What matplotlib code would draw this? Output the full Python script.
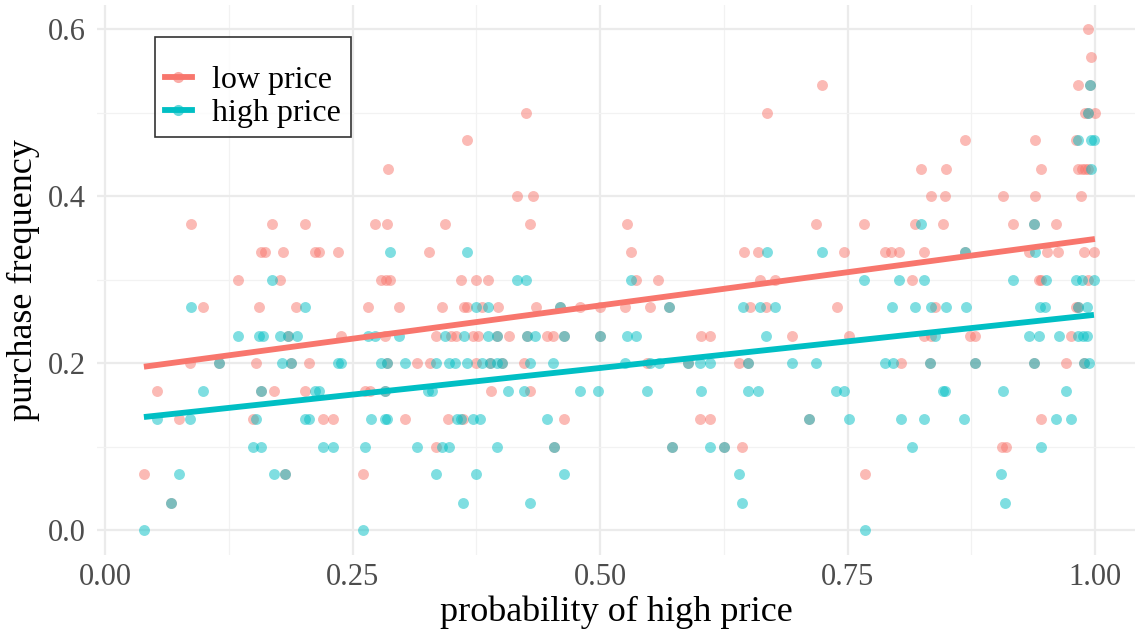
import numpy as np
import matplotlib
matplotlib.use("Agg")
import matplotlib.pyplot as plt
from matplotlib.lines import Line2D

# purchase frequency level -> x positions (probability of high price)
low_rows = [
    (0.600, [0.993]),
    (0.567, [0.996]),
    (0.533, [0.724, 0.983, 0.995]),
    (0.500, [0.425, 0.669, 0.990, 0.993, 1.000]),
    (0.467, [0.365, 0.869, 0.939, 0.981]),
    (0.433, [0.286, 0.824, 0.850, 0.946, 0.983, 0.987, 0.990, 0.993]),
    (0.400, [0.416, 0.432, 0.834, 0.849, 0.907, 0.939, 0.986]),
    (0.367, [0.087, 0.168, 0.202, 0.273, 0.285, 0.343, 0.429, 0.527, 0.718,
             0.767, 0.818, 0.846, 0.917, 0.938, 0.961]),
    (0.333, [0.157, 0.161, 0.180, 0.212, 0.216, 0.235, 0.327, 0.531, 0.645,
             0.660, 0.746, 0.788, 0.794, 0.802, 0.827, 0.869, 0.933, 0.952,
             0.963, 0.989, 0.999]),
    (0.300, [0.134, 0.177, 0.279, 0.284, 0.288, 0.359, 0.375, 0.387, 0.536,
             0.558, 0.662, 0.677, 0.815, 0.943, 0.946, 0.993]),
    (0.267, [0.099, 0.155, 0.193, 0.265, 0.297, 0.340, 0.362, 0.365, 0.381,
             0.397, 0.435, 0.459, 0.480, 0.500, 0.525, 0.550, 0.570, 0.651,
             0.668, 0.739, 0.838, 0.981, 0.983]),
    (0.233, [0.185, 0.238, 0.283, 0.334, 0.349, 0.354, 0.372, 0.377, 0.396,
             0.408, 0.426, 0.446, 0.452, 0.463, 0.500, 0.602, 0.611, 0.694,
             0.752, 0.827, 0.834, 0.874, 0.879, 0.976]),
    (0.200, [0.086, 0.115, 0.152, 0.188, 0.206, 0.285, 0.315, 0.328, 0.375,
             0.389, 0.401, 0.423, 0.547, 0.589, 0.640, 0.649, 0.804, 0.833,
             0.879, 0.938, 0.971, 0.989]),
    (0.167, [0.052, 0.157, 0.170, 0.202, 0.262, 0.267, 0.283, 0.390, 0.429]),
    (0.133, [0.074, 0.149, 0.220, 0.230, 0.303, 0.346, 0.361, 0.463, 0.601,
             0.611, 0.711, 0.946]),
    (0.100, [0.334, 0.453, 0.573, 0.625, 0.643, 0.906, 0.910]),
    (0.067, [0.039, 0.182, 0.260, 0.768]),
    (0.033, [0.066]),
]

high_rows = [
    (0.533, [0.995]),
    (0.500, [0.993]),
    (0.467, [0.983, 0.996, 0.999]),
    (0.433, [0.996]),
    (0.367, [0.824, 0.938]),
    (0.333, [0.288, 0.365, 0.669, 0.724, 0.869, 0.939]),
    (0.300, [0.168, 0.416, 0.425, 0.531, 0.767, 0.802, 0.827, 0.917, 0.951,
             0.981, 0.987, 0.999]),
    (0.267, [0.087, 0.202, 0.375, 0.387, 0.459, 0.570, 0.644, 0.662, 0.677,
             0.795, 0.818, 0.834, 0.850, 0.870, 0.945, 0.950, 0.983, 0.992]),
    (0.233, [0.134, 0.155, 0.159, 0.177, 0.185, 0.194, 0.265, 0.273, 0.297,
             0.343, 0.362, 0.387, 0.396, 0.426, 0.434, 0.463, 0.500, 0.527,
             0.536, 0.668, 0.838, 0.933, 0.943, 0.964, 0.983, 0.988, 0.992]),
    (0.200, [0.115, 0.179, 0.188, 0.235, 0.238, 0.279, 0.285, 0.303, 0.334,
             0.347, 0.353, 0.365, 0.381, 0.389, 0.396, 0.401, 0.429, 0.452,
             0.525, 0.550, 0.559, 0.589, 0.601, 0.611, 0.649, 0.694, 0.718,
             0.788, 0.796, 0.833, 0.879, 0.938, 0.989, 0.994]),
    (0.167, [0.099, 0.157, 0.212, 0.216, 0.283, 0.326, 0.330, 0.407, 0.423,
             0.480, 0.498, 0.547, 0.602, 0.649, 0.660, 0.738, 0.746, 0.846,
             0.849, 0.907, 0.971]),
    (0.133, [0.052, 0.086, 0.152, 0.202, 0.206, 0.268, 0.283, 0.285, 0.355,
             0.359, 0.372, 0.379, 0.446, 0.711, 0.752, 0.804, 0.827, 0.868,
             0.961, 0.976]),
    (0.100, [0.149, 0.157, 0.220, 0.230, 0.262, 0.315, 0.340, 0.347, 0.396,
             0.453, 0.573, 0.611, 0.625, 0.815, 0.946]),
    (0.067, [0.074, 0.170, 0.182, 0.334, 0.375, 0.463, 0.640, 0.905]),
    (0.033, [0.066, 0.361, 0.429, 0.643, 0.909]),
    (0.000, [0.039, 0.260, 0.768]),
]

series_names = ["low price", "high price"]
series_colors = ["#F8766D", "#00BFC4"]


def flatten(rows):
    xs, ys = [], []
    for freq, xvals in rows:
        xs.extend(xvals)
        ys.extend([freq] * len(xvals))
    return np.array(xs), np.array(ys)


plt.rcParams['font.family'] = ['Liberation Serif', 'DejaVu Serif']

fig = plt.figure(figsize=(11.35, 6.34), dpi=100)
ax = fig.add_axes([97 / 1135, 79 / 634, 1 - 97 / 1135, 550 / 634])

handles = []
for rows, name, color in zip([low_rows, high_rows], series_names, series_colors):
    x, y = flatten(rows)
    ax.scatter(x, y, s=62, color=color, alpha=0.5, linewidths=0, zorder=2)
    # linear fit like geom_smooth(method = "lm")
    slope, intercept = np.polyfit(x, y, 1)
    xx = np.array([x.min(), x.max()])
    ax.plot(xx, intercept + slope * xx, color=color, lw=4.2,
            solid_capstyle='butt', zorder=3)
    handles.append(Line2D([0], [0], color=color, lw=4.2, marker='o',
                          markersize=8, markerfacecolor=color,
                          markeredgewidth=0, label=name))

ax.set_xlim(-0.0084, 1.0405)
ax.set_ylim(-0.0296, 0.6293)

ax.set_xticks([0, 0.25, 0.5, 0.75, 1.0])
ax.set_xticklabels(["0.00", "0.25", "0.50", "0.75", "1.00"])
ax.set_xticks([0.125, 0.375, 0.625, 0.875], minor=True)
ax.set_yticks([0, 0.2, 0.4, 0.6])
ax.set_yticklabels(["0.0", "0.2", "0.4", "0.6"])
ax.set_yticks([0.1, 0.3, 0.5], minor=True)

ax.grid(True, which='major', color='#EBEBEB', lw=1.6, zorder=0)
ax.grid(True, which='minor', color='#F2F2F2', lw=0.9, zorder=0)
ax.set_axisbelow(True)
for sp in ax.spines.values():
    sp.set_visible(False)
ax.tick_params(which='both', length=0)
ax.tick_params(axis='x', labelsize=22, labelcolor='#4D4D4D', pad=6)
ax.tick_params(axis='y', labelsize=22, labelcolor='#4D4D4D', pad=8)

ax.set_xlabel("probability of high price", fontsize=26, labelpad=2)
ax.set_ylabel("purchase frequency", fontsize=26, labelpad=6)

# empty title gives the extra space above the keys, as in ggplot
leg = ax.legend(handles=handles, loc='upper left',
                bbox_to_anchor=(155 / 1135, 1 - 37 / 634),
                bbox_transform=fig.transFigure, fontsize=23,
                title=" ", title_fontsize=12,
                frameon=True, fancybox=False, edgecolor='black',
                handlelength=0.85, handletextpad=0.65, borderpad=0.3,
                labelspacing=0.1, borderaxespad=0)
leg.get_frame().set_linewidth(1.2)
for lh in leg.legend_handles:
    lh.set_markerfacecolor(lh.get_color() + "99")

fig.savefig("out.png", dpi=100)
